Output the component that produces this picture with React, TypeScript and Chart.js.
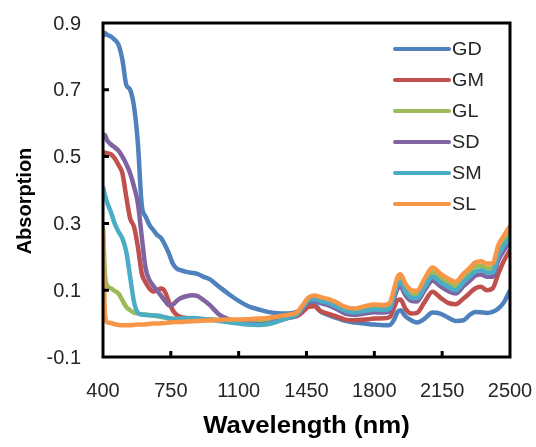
import React, { useEffect, useRef } from 'react';
import { Chart, registerables } from 'chart.js';
Chart.register(...registerables);

const wavelengths = [400,410,420,440,460,480,500,520,540,560,580,600,620,640,660,680,700,720,740,760,780,800,830,860,890,920,950,1000,1050,1100,1150,1200,1250,1300,1350,1400,1430,1460,1490,1520,1560,1600,1650,1700,1750,1800,1850,1880,1900,1920,1935,1960,1990,2020,2060,2100,2140,2180,2220,2260,2290,2320,2350,2380,2410,2440,2470,2500];

const GD = [0.86,0.87,0.865,0.86,0.85,0.835,0.79,0.715,0.70,0.65,0.54,0.355,0.32,0.295,0.28,0.265,0.256,0.235,0.21,0.18,0.165,0.16,0.155,0.152,0.148,0.14,0.133,0.11,0.088,0.068,0.052,0.043,0.035,0.031,0.03,0.035,0.045,0.058,0.058,0.038,0.026,0.018,0.008,0.003,0.0,-0.003,-0.005,-0.004,0.01,0.035,0.04,0.022,0.01,0.003,0.015,0.033,0.03,0.018,0.008,0.01,0.025,0.035,0.034,0.032,0.035,0.045,0.065,0.1];
const GM = [0.50,0.512,0.51,0.507,0.495,0.475,0.45,0.38,0.315,0.29,0.23,0.15,0.123,0.105,0.096,0.1,0.105,0.095,0.065,0.04,0.026,0.02,0.017,0.015,0.013,0.012,0.011,0.01,0.008,0.008,0.008,0.01,0.012,0.015,0.018,0.022,0.035,0.05,0.052,0.038,0.03,0.022,0.012,0.01,0.012,0.015,0.016,0.02,0.045,0.07,0.072,0.045,0.03,0.032,0.065,0.095,0.078,0.062,0.058,0.075,0.09,0.105,0.11,0.1,0.105,0.15,0.19,0.22];
const GL = [0.29,0.15,0.115,0.106,0.098,0.09,0.07,0.05,0.04,0.033,0.03,0.028,0.027,0.026,0.024,0.022,0.02,0.018,0.016,0.015,0.014,0.014,0.014,0.013,0.013,0.012,0.012,0.011,0.01,0.01,0.01,0.011,0.013,0.017,0.022,0.03,0.05,0.073,0.079,0.074,0.068,0.058,0.044,0.039,0.045,0.05,0.048,0.053,0.09,0.128,0.136,0.108,0.088,0.086,0.122,0.154,0.137,0.122,0.112,0.137,0.152,0.17,0.173,0.166,0.166,0.22,0.25,0.275];
const SD = [0.555,0.565,0.55,0.537,0.528,0.518,0.5,0.478,0.45,0.41,0.36,0.26,0.165,0.13,0.113,0.098,0.083,0.068,0.055,0.057,0.068,0.076,0.082,0.085,0.082,0.07,0.056,0.027,0.013,0.005,0.0,-0.002,0.0,0.008,0.016,0.025,0.045,0.066,0.07,0.062,0.055,0.045,0.03,0.026,0.03,0.034,0.033,0.038,0.072,0.105,0.11,0.085,0.068,0.066,0.1,0.128,0.112,0.098,0.09,0.112,0.127,0.143,0.147,0.14,0.14,0.19,0.22,0.245];
const SM = [0.41,0.385,0.365,0.335,0.30,0.275,0.255,0.215,0.14,0.065,0.032,0.027,0.026,0.025,0.024,0.024,0.022,0.019,0.016,0.014,0.014,0.015,0.016,0.017,0.016,0.014,0.012,0.008,0.004,0.0,-0.003,-0.004,-0.002,0.006,0.016,0.027,0.048,0.07,0.074,0.068,0.062,0.052,0.038,0.033,0.038,0.042,0.041,0.046,0.082,0.117,0.124,0.097,0.078,0.076,0.11,0.14,0.124,0.11,0.1,0.124,0.14,0.155,0.16,0.153,0.153,0.205,0.235,0.26];
const SL = [0.28,0.03,0.005,0.002,-0.002,-0.004,-0.005,-0.005,-0.005,-0.004,-0.003,-0.003,-0.002,-0.001,0.0,0.0,0.001,0.002,0.003,0.004,0.005,0.005,0.006,0.007,0.008,0.009,0.01,0.011,0.012,0.012,0.013,0.015,0.017,0.021,0.026,0.033,0.055,0.078,0.084,0.08,0.074,0.065,0.05,0.045,0.052,0.057,0.056,0.062,0.1,0.14,0.148,0.12,0.1,0.098,0.135,0.168,0.15,0.135,0.125,0.15,0.165,0.183,0.187,0.18,0.18,0.235,0.265,0.292];

const seriesNames = ['GD', 'GM', 'GL', 'SD', 'SM', 'SL'];
const seriesColors = ['#4F81BD', '#C0504D', '#9BBB59', '#8064A2', '#4BACC6', '#F79646'];
const xTicks = [400, 750, 1100, 1450, 1800, 2150, 2500];
const yTicks = [-0.1, 0.1, 0.3, 0.5, 0.7, 0.9];
const xTitle = 'Wavelength (nm)';
const yTitle = 'Absorption';

const FONT = '"Liberation Sans", Arial, sans-serif';
const TEXT = '#262626';

const decorPlugin = {
  id: 'decor',
  afterDatasetsDraw(chart: any) {
    const { ctx, chartArea, scales } = chart;
    const { left, right, top, bottom } = chartArea;
    ctx.save();
    // frame
    ctx.strokeStyle = '#000';
    ctx.lineWidth = 3;
    ctx.strokeRect(left, top, right - left, bottom - top);
    ctx.beginPath();
    yTicks.slice(1, -1).forEach((v) => {
      const y = scales.y.getPixelForValue(v);
      ctx.moveTo(left, y);
      ctx.lineTo(left + 6, y);
    });
    xTicks.slice(1, -1).forEach((v) => {
      const x = scales.x.getPixelForValue(v);
      ctx.moveTo(x, bottom);
      ctx.lineTo(x, bottom - 6);
    });
    ctx.stroke();

    // tick labels
    ctx.fillStyle = TEXT;
    ctx.font = `20px ${FONT}`;
    ctx.textBaseline = 'middle';
    ctx.textAlign = 'right';
    yTicks.forEach((v) => {
      ctx.fillText(v.toFixed(1), left - 22, scales.y.getPixelForValue(v) + 1);
    });
    ctx.textAlign = 'center';
    xTicks.forEach((v) => {
      ctx.fillText(String(v), scales.x.getPixelForValue(v), bottom + 34);
    });

    // legend
    const lx = right - 115;
    const ly = top + 26;
    ctx.font = `18px ${FONT}`;
    ctx.textBaseline = 'middle';
    ctx.textAlign = 'left';
    seriesNames.forEach((name, i) => {
      const y = ly + i * 31;
      ctx.strokeStyle = seriesColors[i];
      ctx.lineWidth = 4;
      ctx.lineCap = 'round';
      ctx.beginPath();
      ctx.moveTo(lx, y);
      ctx.lineTo(lx + 54, y);
      ctx.stroke();
      ctx.fillStyle = TEXT;
      ctx.save();
      ctx.translate(lx + 57, y + 1);
      ctx.scale(1.1, 1);
      ctx.fillText(name, 0, 0);
      ctx.restore();
    });

    // axis titles
    ctx.fillStyle = '#000';
    ctx.font = `bold 23px ${FONT}`;
    ctx.textAlign = 'center';
    ctx.textBaseline = 'alphabetic';
    ctx.save();
    ctx.translate((left + right) / 2, 433);
    ctx.scale(1.12, 1);
    ctx.fillText(xTitle, 0, 0);
    ctx.restore();
    ctx.save();
    ctx.translate(25, (top + bottom) / 2 + 11);
    ctx.rotate(-Math.PI / 2);
    ctx.font = `bold 20px ${FONT}`;
    ctx.textBaseline = 'middle';
    ctx.fillText(yTitle, 0, 0);
    ctx.restore();
    ctx.restore();
  },
};

export default function App() {
  const ref = useRef<HTMLCanvasElement>(null);
  useEffect(() => {
    const canvas = ref.current;
    if (!canvas) return;
    const values = [GD, GM, GL, SD, SM, SL];
    const chart = new Chart(canvas, {
      type: 'line',
      data: {
        datasets: seriesNames.map((name, i) => ({
          label: name,
          data: wavelengths.map((w, j) => ({ x: w, y: values[i][j] })),
          borderColor: seriesColors[i],
          backgroundColor: seriesColors[i],
          borderWidth: 4.5,
          pointRadius: 0,
          cubicInterpolationMode: 'monotone',
          fill: false,
          order: 5 - i,
        })),
      },
      options: {
        responsive: false,
        animation: false,
        layout: { padding: { top: 23, right: 26, left: 0, bottom: 0 } },
        plugins: { legend: { display: false }, tooltip: { enabled: false } },
        scales: {
          x: {
            type: 'linear',
            min: 400,
            max: 2500,
            afterBuildTicks: (s: any) => { s.ticks = xTicks.map((v) => ({ value: v })); },
            afterFit: (s: any) => { s.height = 90; },
            grid: { display: false },
            border: { display: false },
            ticks: { display: false },
          },
          y: {
            type: 'linear',
            min: -0.1,
            max: 0.9,
            afterBuildTicks: (s: any) => { s.ticks = yTicks.map((v) => ({ value: v })); },
            afterFit: (s: any) => { s.width = 103; },
            grid: { display: false },
            border: { display: false },
            ticks: { display: false },
          },
        },
      },
      plugins: [decorPlugin],
    } as any);
    return () => chart.destroy();
  }, []);
  return (
    <div style={{ position: 'absolute', left: 0, top: 0, width: 536, height: 447, background: '#fff' }}>
      <canvas ref={ref} width={536} height={447} style={{ display: 'block' }} />
    </div>
  );
}
